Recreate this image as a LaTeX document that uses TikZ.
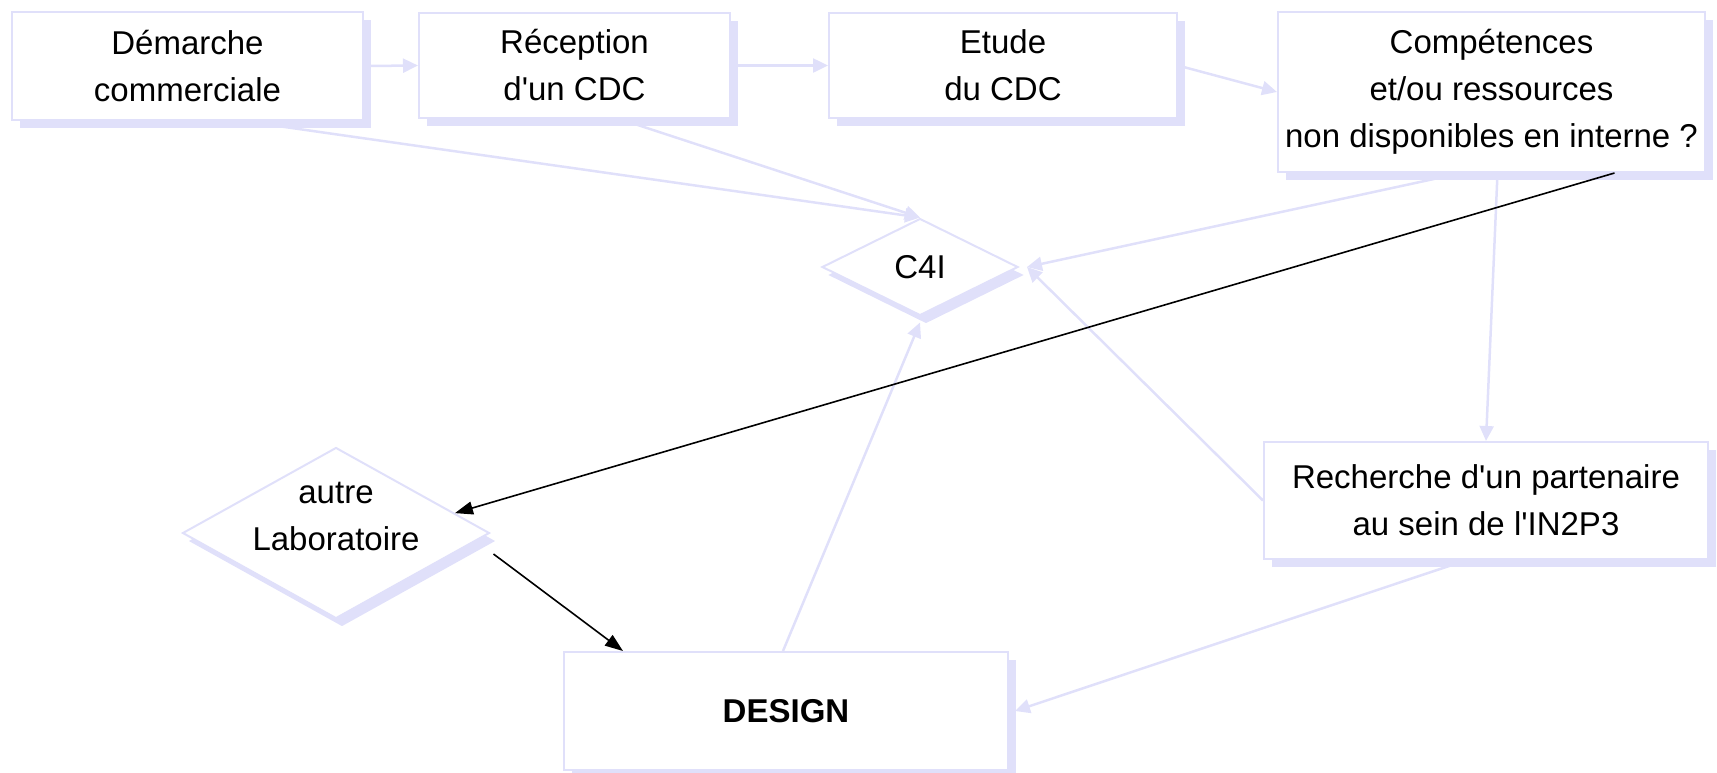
\documentclass[tikz,border=0pt]{standalone}
\usepackage{fontspec}
\setmainfont{Liberation Sans}
\usetikzlibrary{shapes.geometric,shadows,arrows.meta,calc}
\definecolor{lav}{RGB}{224,224,250}
\tikzset{
  x=1pt,y=-1pt,
  every node/.style={font=\fontsize{33}{47}\selectfont, text=black},
  boxnode/.style={rectangle, draw=lav, line width=2pt, fill=white, align=center, inner sep=0pt,
    drop shadow={shadow xshift=8pt, shadow yshift=-8pt, fill=lav, opacity=1}},
  dianode/.style={diamond, draw=lav, line width=2pt, fill=white, align=center, inner sep=0pt,
    drop shadow={shadow xshift=6pt, shadow yshift=-8pt, fill=lav, opacity=1}},
  lavarrow/.style={draw=lav, line width=2.5pt, -{Triangle[length=15pt,width=14pt]}},
  blkarrow/.style={draw=black, line width=1.6pt, -{Triangle[length=18pt,width=13pt]}},
}
\begin{document}
\begin{tikzpicture}
\useasboundingbox (0,0) rectangle (1717,772);
\node[boxnode, minimum width=351, minimum height=108] (dem) at (187.5,66) {Démarche\\commerciale};
\node[boxnode, minimum width=311, minimum height=105] (rec) at (574.5,65.5) {Réception\\d\textquotesingle un CDC};
\node[boxnode, minimum width=348, minimum height=105] (etu) at (1003,65.5) {Etude\\du CDC};
\node[boxnode, minimum width=427, minimum height=160] (comp) at (1491.5,92) {Compétences\\et/ou ressources\\non disponibles en interne ?};
\node[boxnode, minimum width=444, minimum height=117] (rech) at (1486,500.5) {Recherche d\textquotesingle un partenaire\\au sein de l\textquotesingle IN2P3};
\node[boxnode, minimum width=444, minimum height=118] (des) at (786,711) {\textbf{DESIGN}};
\node[dianode, minimum width=196, minimum height=97] (c4i) at (920,267) {C4I};
\node[dianode, minimum width=307, minimum height=171] (lab) at (336,533) {};
\node[align=center] (labtxt) at (336,516) {autre\\Laboratoire};

\draw[lavarrow] (dem.east) -- (rec.west);
\draw[lavarrow] (rec.east) -- (etu.west);
\draw[lavarrow] (etu.east) -- (comp.west);
\draw[lavarrow] ([shift={(55,0)}]dem.south) -- (c4i.north);
\draw[lavarrow] ([shift={(45,0)}]rec.south) -- (c4i.north);
\draw[lavarrow] ([shift={(-30,0)}]comp.south) -- ([shift={(8,0)}]c4i.east);
\draw[lavarrow] ([shift={(6,0)}]comp.south) -- (rech.north);
\draw[lavarrow] (rech.west) -- ([shift={(8,0)}]c4i.east);
\draw[lavarrow] ([shift={(-3,0)}]des.north) -- ([shift={(0,6)}]c4i.south);
\draw[lavarrow] ([shift={(-19,0)}]rech.south) -- ([shift={(6,0)}]des.east);
\draw[blkarrow] ([shift={(123,0)}]comp.south) -- ($(lab.north)!0.77!(lab.east)$);
\draw[blkarrow] ([shift={(3,21)}]lab.east) -- ([shift={(-163,0)}]des.north);
\end{tikzpicture}
\end{document}
